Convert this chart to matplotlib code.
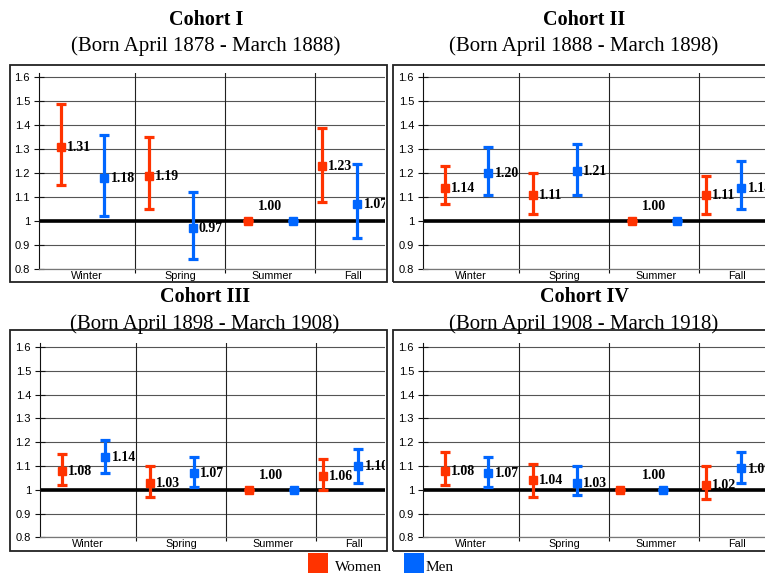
import numpy as np
import matplotlib
matplotlib.use("Agg")
import matplotlib.pyplot as plt
from matplotlib.patches import Rectangle

# ---------------- data ----------------
categories = ["Winter", "Spring", "Summer", "Fall"]
cohort_titles = ["Cohort I", "Cohort II", "Cohort III", "Cohort IV"]
cohort_ranges = ["(Born April 1878 - March 1888)", "(Born April 1888 - March 1898)",
                 "(Born April 1898 - March 1908)", "(Born April 1908 - March 1918)"]
ytick_values = [0.8, 0.9, 1.0, 1.1, 1.2, 1.3, 1.4, 1.5, 1.6]
ytick_labels = ["0.8", "0.9", "1", "1.1", "1.2", "1.3", "1.4", "1.5", "1.6"]
series_names = ["Women", "Men"]

women_est_1 = [1.31, 1.19, 1.00, 1.23]
women_lo_1 = [1.15, 1.05, 1.00, 1.08]
women_hi_1 = [1.49, 1.35, 1.00, 1.39]
men_est_1 = [1.18, 0.97, 1.00, 1.07]
men_lo_1 = [1.02, 0.84, 1.00, 0.93]
men_hi_1 = [1.36, 1.12, 1.00, 1.24]

women_est_2 = [1.14, 1.11, 1.00, 1.11]
women_lo_2 = [1.07, 1.03, 1.00, 1.03]
women_hi_2 = [1.23, 1.20, 1.00, 1.19]
men_est_2 = [1.20, 1.21, 1.00, 1.14]
men_lo_2 = [1.11, 1.11, 1.00, 1.05]
men_hi_2 = [1.31, 1.32, 1.00, 1.25]

women_est_3 = [1.08, 1.03, 1.00, 1.06]
women_lo_3 = [1.02, 0.97, 1.00, 1.00]
women_hi_3 = [1.15, 1.10, 1.00, 1.13]
men_est_3 = [1.14, 1.07, 1.00, 1.10]
men_lo_3 = [1.07, 1.01, 1.00, 1.03]
men_hi_3 = [1.21, 1.14, 1.00, 1.17]

women_est_4 = [1.08, 1.04, 1.00, 1.02]
women_lo_4 = [1.02, 0.97, 1.00, 0.96]
women_hi_4 = [1.16, 1.11, 1.00, 1.10]
men_est_4 = [1.07, 1.03, 1.00, 1.09]
men_lo_4 = [1.01, 0.98, 1.00, 1.03]
men_hi_4 = [1.14, 1.10, 1.00, 1.16]

# ---------------- layout / style ----------------
W, H = 765, 576
RED = "#FF3300"
BLUE = "#0066FF"
women_x = [0.18, 1.15, 2.26, 3.08]
men_x = [0.66, 1.64, 2.75, 3.47]
women_x4 = [0.18, 1.15, 2.12, 3.08]
men_x4 = [0.66, 1.64, 2.60, 3.47]
label_x = [0.47, 1.50, 2.52, 3.42]

panels = [
    dict(data=(women_est_1, women_lo_1, women_hi_1, men_est_1, men_lo_1, men_hi_1),
         box=(10, 65, 387, 282), ax=(39, 72.7, 385, 269), tx=206, ty=(25, 51),
         wx=women_x, mx=men_x),
    dict(data=(women_est_2, women_lo_2, women_hi_2, men_est_2, men_lo_2, men_hi_2),
         box=(393, 65, 780, 282), ax=(423, 72.7, 765, 269), tx=584, ty=(25, 51),
         wx=women_x, mx=men_x),
    dict(data=(women_est_3, women_lo_3, women_hi_3, men_est_3, men_lo_3, men_hi_3),
         box=(10, 330, 387, 551), ax=(40, 342.7, 385, 537.3), tx=205, ty=(302, 329),
         wx=women_x, mx=men_x),
    dict(data=(women_est_4, women_lo_4, women_hi_4, men_est_4, men_lo_4, men_hi_4),
         box=(393, 330, 780, 551), ax=(423, 342.7, 765, 537.3), tx=584, ty=(302, 329),
         wx=women_x4, mx=men_x4),
]

fig = plt.figure(figsize=(W / 100, H / 100), dpi=100)

def fx(x):
    return x / W

def fy(y):
    return 1 - y / H

SANS = "Liberation Sans"
SERIF = "Liberation Serif"

for i, p in enumerate(panels):
    bx0, by0, bx1, by1 = p["box"]
    fig.patches.append(Rectangle((fx(bx0), fy(by1)), fx(bx1) - fx(bx0), fy(by0) - fy(by1),
                                 transform=fig.transFigure, fill=False, lw=1.3,
                                 edgecolor="#222222", zorder=0))
    ax0, ay0, ax1, ay1 = p["ax"]
    ax = fig.add_axes([fx(ax0), fy(ay1), fx(ax1) - fx(ax0), fy(ay0) - fy(ay1)])
    ax.patch.set_alpha(0)
    px_per_unit = 90.0
    left = 1 - 96.0 / px_per_unit
    right = left + (ax1 - ax0) / px_per_unit
    ax.set_xlim(left, right)
    ax.set_ylim(0.8, 1.619)

    for s in ["top", "right"]:
        ax.spines[s].set_visible(False)
    ax.spines["left"].set_color("#111111")
    ax.spines["left"].set_linewidth(0.8)
    ax.spines["bottom"].set_color("#777777")
    ax.spines["bottom"].set_linewidth(0.9)

    ax.set_yticks(ytick_values, ytick_labels)
    ax.tick_params(axis="y", direction="inout", length=7, width=0.8, color="#111111",
                   pad=3, labelsize=8)
    for t in ax.get_yticklabels():
        t.set_fontfamily(SANS)
    ax.yaxis.grid(True, color="#555555", lw=0.8)
    ax.set_axisbelow(True)

    ax.set_xticks(label_x, categories)
    ax.tick_params(axis="x", which="major", length=0, pad=1.5, labelsize=7.8)
    for t in ax.get_xticklabels():
        t.set_fontfamily(SANS)
    ax.set_xticks([1, 2, 3], minor=True)
    ax.tick_params(axis="x", which="minor", length=3, width=0.8, color="#111111", direction="out")
    for d in [1, 2, 3]:
        ax.axvline(d, color="#222222", lw=0.8, zorder=1)

    ax.axhline(1.0, color="black", lw=2.6, zorder=2)

    we, wl, wh, me, ml, mh = [np.array(a) for a in p["data"]]
    for xs, est, lo, hi, col in [(p["wx"], we, wl, wh, RED), (p["mx"], me, ml, mh, BLUE)]:
        ax.errorbar(xs, est, yerr=[est - lo, hi - est], fmt="s", color=col, ms=5.5,
                    lw=2.3, capsize=3.4, capthick=2.3, zorder=3, clip_on=True)
        for k, (xv, ev) in enumerate(zip(xs, est)):
            if categories[k] == "Summer":
                continue
            ax.annotate(f"{ev:.2f}", (xv, ev), xytext=(4.5, -0.5), textcoords="offset points",
                        ha="left", va="center", fontsize=10, fontweight="bold",
                        fontfamily=SERIF, zorder=4, annotation_clip=False, clip_on=True)
    ax.text(2.5, 1.06, f"{we[2]:.2f}", ha="center", va="center", fontsize=10,
            fontweight="bold", fontfamily=SERIF, zorder=4)

    fig.text(fx(p["tx"]), fy(p["ty"][0]), cohort_titles[i], ha="center", va="baseline",
             fontsize=14.5, fontweight="bold", fontfamily=SERIF)
    fig.text(fx(p["tx"]), fy(p["ty"][1]), cohort_ranges[i], ha="center", va="baseline",
             fontsize=15, fontfamily=SERIF)

# legend
for (sx, tx), name, col in zip([(308, 335), (404, 426)], series_names, [RED, BLUE]):
    fig.patches.append(Rectangle((fx(sx), fy(573)), 20 / W, 20 / H,
                                 transform=fig.transFigure, color=col, lw=0))
    fig.text(fx(tx), fy(571), name, ha="left", va="baseline", fontsize=11, fontfamily=SERIF)

fig.savefig("out.png", dpi=100)
